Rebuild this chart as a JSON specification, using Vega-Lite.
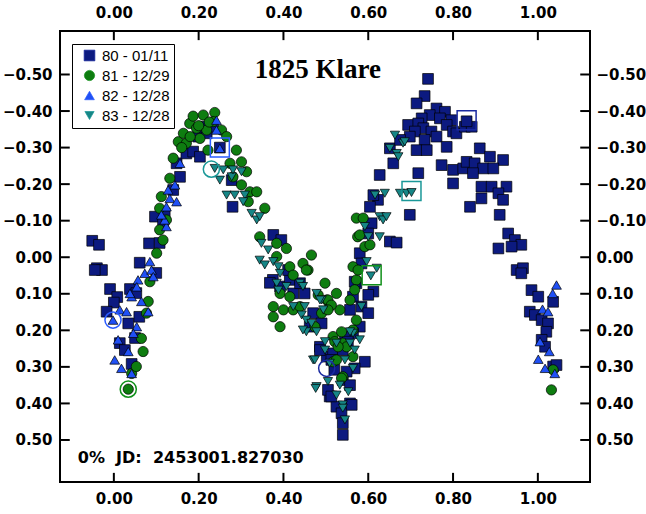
{
  "$schema": "https://vega.github.io/schema/vega-lite/v6.json",
  "width": 530,
  "height": 451,
  "autosize": {"type": "none"},
  "padding": {"left": 60, "top": 31, "right": 56, "bottom": 32},
  "background": "white",
  "config": {
    "view": {"stroke": "black", "strokeWidth": 2},
    "axis": {"domain": false, "grid": false, "ticks": false, "labelFont": "DejaVu Sans", "labelFontWeight": "bold", "labelFontSize": 15, "labelColor": "black", "title": null}
  },
  "datasets": {
    "xt": [{"v": 0}, {"v": 0.2}, {"v": 0.4}, {"v": 0.6}, {"v": 0.8}, {"v": 1.0}],
    "yt": [{"v": -0.5}, {"v": -0.4}, {"v": -0.3}, {"v": -0.2}, {"v": -0.1}, {"v": 0}, {"v": 0.1}, {"v": 0.2}, {"v": 0.3}, {"v": 0.4}, {"v": 0.5}],
    "pts": [
      {"s":"80 - 01/11","x":-0.051,"y":-0.045},{"s":"80 - 01/11","x":-0.035,"y":-0.034},{"s":"80 - 01/11","x":-0.04,"y":0.03},{"s":"80 - 01/11","x":-0.028,"y":0.035},{"s":"80 - 01/11","x":-0.045,"y":0.035},
      {"s":"80 - 01/11","x":0.083,"y":-0.038},{"s":"80 - 01/11","x":0.108,"y":-0.039},{"s":"80 - 01/11","x":0.061,"y":0.015},{"s":"80 - 01/11","x":0.1,"y":0.043},{"s":"80 - 01/11","x":-0.009,"y":0.087},{"s":"80 - 01/11","x":0.008,"y":0.109},{"s":"80 - 01/11","x":0,"y":0.124},{"s":"80 - 01/11","x":-0.017,"y":0.149},{"s":"80 - 01/11","x":0.034,"y":0.181},{"s":"80 - 01/11","x":0.06,"y":0.163},{"s":"80 - 01/11","x":0.014,"y":0.235},{"s":"80 - 01/11","x":0.026,"y":0.254},{"s":"80 - 01/11","x":0.05,"y":0.221},{"s":"80 - 01/11","x":0.042,"y":0.292},{"s":"80 - 01/11","x":0.038,"y":0.087},{"s":"80 - 01/11","x":0.053,"y":0.098},
      {"s":"80 - 01/11","x":0.097,"y":-0.111},{"s":"80 - 01/11","x":0.12,"y":-0.12},{"s":"80 - 01/11","x":0.116,"y":-0.093},{"s":"80 - 01/11","x":0.14,"y":-0.184},{"s":"80 - 01/11","x":0.156,"y":-0.22},{"s":"80 - 01/11","x":0.148,"y":-0.257},{"s":"80 - 01/11","x":0.171,"y":-0.284},{"s":"80 - 01/11","x":0.187,"y":-0.289},{"s":"80 - 01/11","x":0.203,"y":-0.275},{"s":"80 - 01/11","x":0.199,"y":-0.33},{"s":"80 - 01/11","x":0.219,"y":-0.339},{"s":"80 - 01/11","x":0.211,"y":-0.357},{"s":"80 - 01/11","x":0.234,"y":-0.357},{"s":"80 - 01/11","x":0.25,"y":-0.3},{"s":"80 - 01/11","x":0.278,"y":-0.211},{"s":"80 - 01/11","x":0.28,"y":-0.138},
      {"s":"80 - 01/11","x":0.376,"y":-0.061},{"s":"80 - 01/11","x":0.395,"y":-0.047},{"s":"80 - 01/11","x":0.375,"y":0.062},{"s":"80 - 01/11","x":0.368,"y":0.07},{"s":"80 - 01/11","x":0.392,"y":0.08},{"s":"80 - 01/11","x":0.415,"y":0.062},{"s":"80 - 01/11","x":0.411,"y":0.035},{"s":"80 - 01/11","x":0.423,"y":0.099},{"s":"80 - 01/11","x":0.45,"y":0.099},{"s":"80 - 01/11","x":0.439,"y":0.071},{"s":"80 - 01/11","x":0.47,"y":0.153},{"s":"80 - 01/11","x":0.49,"y":0.181},{"s":"80 - 01/11","x":0.462,"y":0.19},{"s":"80 - 01/11","x":0.486,"y":0.245},{"s":"80 - 01/11","x":0.502,"y":0.272},{"s":"80 - 01/11","x":0.517,"y":0.263},{"s":"80 - 01/11","x":0.54,"y":0.254},{"s":"80 - 01/11","x":0.557,"y":0.144},{"s":"80 - 01/11","x":0.564,"y":0.108},{"s":"80 - 01/11","x":0.572,"y":0.071},{"s":"80 - 01/11","x":0.509,"y":0.381},{"s":"80 - 01/11","x":0.525,"y":0.409},{"s":"80 - 01/11","x":0.557,"y":0.4},{"s":"80 - 01/11","x":0.54,"y":0.336},
      {"s":"80 - 01/11","x":0.741,"y":-0.488},{"s":"80 - 01/11","x":0.733,"y":-0.441},{"s":"80 - 01/11","x":0.714,"y":-0.421},{"s":"80 - 01/11","x":0.761,"y":-0.407},{"s":"80 - 01/11","x":0.781,"y":-0.398},{"s":"80 - 01/11","x":0.745,"y":-0.389},{"s":"80 - 01/11","x":0.769,"y":-0.38},{"s":"80 - 01/11","x":0.726,"y":-0.38},{"s":"80 - 01/11","x":0.796,"y":-0.375},{"s":"80 - 01/11","x":0.785,"y":-0.362},{"s":"80 - 01/11","x":0.694,"y":-0.362},{"s":"80 - 01/11","x":0.718,"y":-0.366},{"s":"80 - 01/11","x":0.73,"y":-0.353},{"s":"80 - 01/11","x":0.749,"y":-0.344},{"s":"80 - 01/11","x":0.71,"y":-0.344},{"s":"80 - 01/11","x":0.698,"y":-0.33},{"s":"80 - 01/11","x":0.733,"y":-0.321},{"s":"80 - 01/11","x":0.761,"y":-0.33},{"s":"80 - 01/11","x":0.8,"y":-0.344},{"s":"80 - 01/11","x":0.808,"y":-0.339},{"s":"80 - 01/11","x":0.828,"y":-0.357},{"s":"80 - 01/11","x":0.844,"y":-0.357},{"s":"80 - 01/11","x":0.832,"y":-0.372},
      {"s":"80 - 01/11","x":0.651,"y":-0.298},{"s":"80 - 01/11","x":0.714,"y":-0.293},{"s":"80 - 01/11","x":0.738,"y":-0.293},{"s":"80 - 01/11","x":0.785,"y":-0.302},{"s":"80 - 01/11","x":0.675,"y":-0.321},{"s":"80 - 01/11","x":0.659,"y":-0.257},{"s":"80 - 01/11","x":0.863,"y":-0.298},{"s":"80 - 01/11","x":0.887,"y":-0.275},{"s":"80 - 01/11","x":0.918,"y":-0.266},{"s":"80 - 01/11","x":0.773,"y":-0.252},{"s":"80 - 01/11","x":0.8,"y":-0.239},{"s":"80 - 01/11","x":0.824,"y":-0.243},{"s":"80 - 01/11","x":0.832,"y":-0.261},{"s":"80 - 01/11","x":0.851,"y":-0.257},{"s":"80 - 01/11","x":0.871,"y":-0.243},{"s":"80 - 01/11","x":0.895,"y":-0.243},{"s":"80 - 01/11","x":0.847,"y":-0.23},{"s":"80 - 01/11","x":0.867,"y":-0.193},{"s":"80 - 01/11","x":0.891,"y":-0.193},{"s":"80 - 01/11","x":0.926,"y":-0.193},{"s":"80 - 01/11","x":0.8,"y":-0.202},{"s":"80 - 01/11","x":0.907,"y":-0.175},{"s":"80 - 01/11","x":0.918,"y":-0.157},{"s":"80 - 01/11","x":0.867,"y":-0.161},{"s":"80 - 01/11","x":0.84,"y":-0.138},{"s":"80 - 01/11","x":0.91,"y":-0.116},{"s":"80 - 01/11","x":0.627,"y":-0.225},{"s":"80 - 01/11","x":0.718,"y":-0.23},{"s":"80 - 01/11","x":0.698,"y":-0.116},{"s":"80 - 01/11","x":0.651,"y":-0.043},{"s":"80 - 01/11","x":0.667,"y":-0.04},
      {"s":"80 - 01/11","x":0.93,"y":-0.065},{"s":"80 - 01/11","x":0.946,"y":-0.047},{"s":"80 - 01/11","x":0.961,"y":-0.034},{"s":"80 - 01/11","x":0.907,"y":-0.024},{"s":"80 - 01/11","x":0.938,"y":-0.029},{"s":"80 - 01/11","x":0.95,"y":0.035},{"s":"80 - 01/11","x":0.965,"y":0.03},{"s":"80 - 01/11","x":0.961,"y":0.044},{"s":"80 - 01/11","x":0.985,"y":0.09},{"s":"80 - 01/11","x":1.001,"y":0.108},{"s":"80 - 01/11","x":0.981,"y":0.149},{"s":"80 - 01/11","x":0.993,"y":0.158},{"s":"80 - 01/11","x":1.009,"y":0.172},{"s":"80 - 01/11","x":1.024,"y":0.181},{"s":"80 - 01/11","x":1.036,"y":0.122},{"s":"80 - 01/11","x":1.02,"y":0.204},{"s":"80 - 01/11","x":1.009,"y":0.226},{"s":"80 - 01/11","x":1.017,"y":0.245},{"s":"80 - 01/11","x":1.036,"y":0.299},{"s":"80 - 01/11","x":1.044,"y":0.295},
      {"s":"80 - 01/11","x":0.623,"y":-0.157},{"s":"80 - 01/11","x":0.612,"y":-0.17},{"s":"80 - 01/11","x":0.604,"y":-0.138},{"s":"80 - 01/11","x":0.608,"y":-0.093},{"s":"80 - 01/11","x":0.6,"y":-0.065},{"s":"80 - 01/11","x":0.58,"y":-0.011},{"s":"80 - 01/11","x":0.584,"y":0.017},{"s":"80 - 01/11","x":0.568,"y":0.067},{"s":"80 - 01/11","x":0.612,"y":0.094},{"s":"80 - 01/11","x":0.6,"y":0.103},{"s":"80 - 01/11","x":0.584,"y":0.135},{"s":"80 - 01/11","x":0.6,"y":0.153},{"s":"80 - 01/11","x":0.58,"y":0.19},{"s":"80 - 01/11","x":0.564,"y":0.208},{"s":"80 - 01/11","x":0.545,"y":0.217},{"s":"80 - 01/11","x":0.552,"y":0.231},{"s":"80 - 01/11","x":0.592,"y":0.286},{"s":"80 - 01/11","x":0.568,"y":0.304},{"s":"80 - 01/11","x":0.549,"y":0.313},{"s":"80 - 01/11","x":0.486,"y":0.254},{"s":"80 - 01/11","x":0.513,"y":0.281},{"s":"80 - 01/11","x":0.52,"y":0.308},{"s":"80 - 01/11","x":0.505,"y":0.363},{"s":"80 - 01/11","x":0.513,"y":0.381},{"s":"80 - 01/11","x":0.537,"y":0.427},{"s":"80 - 01/11","x":0.561,"y":0.404},{"s":"80 - 01/11","x":0.54,"y":0.454},{"s":"80 - 01/11","x":0.557,"y":0.35},{"s":"80 - 01/11","x":0.54,"y":0.486},
      {"s":"81 - 12/29","x":0.034,"y":0.361},{"s":"81 - 12/29","x":0.042,"y":0.318},{"s":"81 - 12/29","x":0.053,"y":0.299},{"s":"81 - 12/29","x":0.069,"y":0.258},{"s":"81 - 12/29","x":0.065,"y":0.222},{"s":"81 - 12/29","x":0.077,"y":0.153},{"s":"81 - 12/29","x":0.081,"y":0.121},{"s":"81 - 12/29","x":0.085,"y":0.067},{"s":"81 - 12/29","x":0.101,"y":-0.011},{"s":"81 - 12/29","x":0.116,"y":-0.047},{"s":"81 - 12/29","x":0.108,"y":-0.075},{"s":"81 - 12/29","x":0.124,"y":-0.102},{"s":"81 - 12/29","x":0.108,"y":-0.134},{"s":"81 - 12/29","x":0.112,"y":-0.166},{"s":"81 - 12/29","x":0.132,"y":-0.216},{"s":"81 - 12/29","x":0.14,"y":-0.271},{"s":"81 - 12/29","x":0.152,"y":-0.316},{"s":"81 - 12/29","x":0.164,"y":-0.339},{"s":"81 - 12/29","x":0.171,"y":-0.312},{"s":"81 - 12/29","x":0.179,"y":-0.366},{"s":"81 - 12/29","x":0.187,"y":-0.386},{"s":"81 - 12/29","x":0.211,"y":-0.389},{"s":"81 - 12/29","x":0.238,"y":-0.396},{"s":"81 - 12/29","x":0.234,"y":-0.371},{"s":"81 - 12/29","x":0.219,"y":-0.348},{"s":"81 - 12/29","x":0.195,"y":-0.353},{"s":"81 - 12/29","x":0.203,"y":-0.325},{"s":"81 - 12/29","x":0.222,"y":-0.293},{"s":"81 - 12/29","x":0.254,"y":-0.348},{"s":"81 - 12/29","x":0.266,"y":-0.33},{"s":"81 - 12/29","x":0.289,"y":-0.293},{"s":"81 - 12/29","x":0.274,"y":-0.257},{"s":"81 - 12/29","x":0.301,"y":-0.261},{"s":"81 - 12/29","x":0.313,"y":-0.234},{"s":"81 - 12/29","x":0.281,"y":-0.22},{"s":"81 - 12/29","x":0.301,"y":-0.198},{"s":"81 - 12/29","x":0.321,"y":-0.179},{"s":"81 - 12/29","x":0.337,"y":-0.179},{"s":"81 - 12/29","x":0.356,"y":-0.134},{"s":"81 - 12/29","x":0.317,"y":-0.152},{"s":"81 - 12/29","x":0.16,"y":-0.3},{"s":"81 - 12/29","x":0.2,"y":-0.36},{"s":"81 - 12/29","x":0.225,"y":-0.37},{"s":"81 - 12/29","x":0.18,"y":-0.33},
      {"s":"81 - 12/29","x":0.344,"y":-0.056},{"s":"81 - 12/29","x":0.384,"y":-0.038},{"s":"81 - 12/29","x":0.407,"y":-0.024},{"s":"81 - 12/29","x":0.384,"y":-0.002},{"s":"81 - 12/29","x":0.415,"y":0.026},{"s":"81 - 12/29","x":0.446,"y":0.017},{"s":"81 - 12/29","x":0.458,"y":0.035},{"s":"81 - 12/29","x":0.466,"y":-0.006},{"s":"81 - 12/29","x":0.423,"y":0.049},{"s":"81 - 12/29","x":0.392,"y":0.099},{"s":"81 - 12/29","x":0.415,"y":0.108},{"s":"81 - 12/29","x":0.376,"y":0.135},{"s":"81 - 12/29","x":0.4,"y":0.144},{"s":"81 - 12/29","x":0.423,"y":0.144},{"s":"81 - 12/29","x":0.439,"y":0.135},{"s":"81 - 12/29","x":0.376,"y":0.163},{"s":"81 - 12/29","x":0.392,"y":0.19},{"s":"81 - 12/29","x":0.498,"y":0.071},{"s":"81 - 12/29","x":0.502,"y":0.117},{"s":"81 - 12/29","x":0.525,"y":0.099},{"s":"81 - 12/29","x":0.509,"y":0.135},{"s":"81 - 12/29","x":0.533,"y":0.144},{"s":"81 - 12/29","x":0.517,"y":0.217},{"s":"81 - 12/29","x":0.54,"y":0.235},{"s":"81 - 12/29","x":0.549,"y":0.245},{"s":"81 - 12/29","x":0.564,"y":0.199},{"s":"81 - 12/29","x":0.572,"y":0.172},{"s":"81 - 12/29","x":0.557,"y":0.117},{"s":"81 - 12/29","x":0.572,"y":0.062},{"s":"81 - 12/29","x":0.54,"y":0.327},{"s":"81 - 12/29","x":0.564,"y":0.272},{"s":"81 - 12/29","x":0.575,"y":-0.056},{"s":"81 - 12/29","x":0.572,"y":-0.107},{"s":"81 - 12/29","x":0.564,"y":0.026},{"s":"81 - 12/29","x":0.454,"y":0.035},{"s":"81 - 12/29","x":0.505,"y":0.117},{"s":"81 - 12/29","x":0.513,"y":0.131},{"s":"81 - 12/29","x":0.482,"y":0.103},{"s":"81 - 12/29","x":0.49,"y":0.153},{"s":"81 - 12/29","x":0.505,"y":0.144},{"s":"81 - 12/29","x":0.474,"y":0.19},{"s":"81 - 12/29","x":0.537,"y":0.204},{"s":"81 - 12/29","x":0.521,"y":0.231},{"s":"81 - 12/29","x":0.529,"y":0.245},{"s":"81 - 12/29","x":0.517,"y":0.286},{"s":"81 - 12/29","x":0.537,"y":0.331},{"s":"81 - 12/29","x":0.525,"y":0.281},{"s":"81 - 12/29","x":0.568,"y":0.089},{"s":"81 - 12/29","x":0.576,"y":0.035},{"s":"81 - 12/29","x":0.592,"y":-0.029},{"s":"81 - 12/29","x":0.58,"y":-0.061},{"s":"81 - 12/29","x":0.588,"y":-0.107},{"s":"81 - 12/29","x":0.604,"y":-0.034},{"s":"81 - 12/29","x":1.032,"y":0.363},{"s":"81 - 12/29","x":1.036,"y":0.308},
      {"s":"82 - 12/28","x":-0.002,"y":0.172},{"s":"82 - 12/28","x":0.014,"y":0.144},{"s":"82 - 12/28","x":0.03,"y":0.149},{"s":"82 - 12/28","x":0.042,"y":0.108},{"s":"82 - 12/28","x":0.057,"y":0.062},{"s":"82 - 12/28","x":0.054,"y":0.081},{"s":"82 - 12/28","x":0.038,"y":0.099},{"s":"82 - 12/28","x":0.065,"y":0.121},{"s":"82 - 12/28","x":0.081,"y":0.149},{"s":"82 - 12/28","x":0.054,"y":0.19},{"s":"82 - 12/28","x":0.01,"y":0.226},{"s":"82 - 12/28","x":0.034,"y":0.258},{"s":"82 - 12/28","x":0.002,"y":0.281},{"s":"82 - 12/28","x":0.018,"y":0.304},{"s":"82 - 12/28","x":0.042,"y":0.318},{"s":"82 - 12/28","x":0.046,"y":0.208},{"s":"82 - 12/28","x":0.073,"y":0.044},{"s":"82 - 12/28","x":0.089,"y":0.035},{"s":"82 - 12/28","x":0.085,"y":0.012},{"s":"82 - 12/28","x":0.093,"y":0.053},{"s":"82 - 12/28","x":0.124,"y":-0.084},{"s":"82 - 12/28","x":0.12,"y":-0.102},{"s":"82 - 12/28","x":0.112,"y":-0.116},{"s":"82 - 12/28","x":0.124,"y":-0.138},{"s":"82 - 12/28","x":0.132,"y":-0.161},{"s":"82 - 12/28","x":0.148,"y":-0.152},{"s":"82 - 12/28","x":0.128,"y":-0.184},{"s":"82 - 12/28","x":0.144,"y":-0.198},{"s":"82 - 12/28","x":0.156,"y":-0.257},{"s":"82 - 12/28","x":0.242,"y":-0.375},{"s":"82 - 12/28","x":0.242,"y":-0.348},{"s":"82 - 12/28","x":0.25,"y":-0.298},{"s":"82 - 12/28","x":1.044,"y":0.076},{"s":"82 - 12/28","x":1.035,"y":0.099},{"s":"82 - 12/28","x":1.011,"y":0.142},{"s":"82 - 12/28","x":1.024,"y":0.149},{"s":"82 - 12/28","x":1.005,"y":0.231},{"s":"82 - 12/28","x":1.027,"y":0.258},{"s":"82 - 12/28","x":1.001,"y":0.279},{"s":"82 - 12/28","x":1.017,"y":0.304},{"s":"82 - 12/28","x":1.04,"y":0.318},
      {"s":"83 - 12/28","x":0.238,"y":-0.243},{"s":"83 - 12/28","x":0.258,"y":-0.239},{"s":"83 - 12/28","x":0.25,"y":-0.211},{"s":"83 - 12/28","x":0.278,"y":-0.22},{"s":"83 - 12/28","x":0.281,"y":-0.239},{"s":"83 - 12/28","x":0.301,"y":-0.234},{"s":"83 - 12/28","x":0.266,"y":-0.17},{"s":"83 - 12/28","x":0.285,"y":-0.17},{"s":"83 - 12/28","x":0.309,"y":-0.17},{"s":"83 - 12/28","x":0.305,"y":-0.152},{"s":"83 - 12/28","x":0.325,"y":-0.12},{"s":"83 - 12/28","x":0.337,"y":-0.102},{"s":"83 - 12/28","x":0.344,"y":-0.111},{"s":"83 - 12/28","x":0.348,"y":-0.038},{"s":"83 - 12/28","x":0.364,"y":-0.02},{"s":"83 - 12/28","x":0.344,"y":0.008},{"s":"83 - 12/28","x":0.376,"y":0.012},{"s":"83 - 12/28","x":0.388,"y":0.026},{"s":"83 - 12/28","x":0.392,"y":0.044},{"s":"83 - 12/28","x":0.356,"y":0.021},{"s":"83 - 12/28","x":0.384,"y":0.071},{"s":"83 - 12/28","x":0.388,"y":0.09},{"s":"83 - 12/28","x":0.407,"y":0.08},{"s":"83 - 12/28","x":0.439,"y":0.071},{"s":"83 - 12/28","x":0.446,"y":0.08},{"s":"83 - 12/28","x":0.423,"y":0.135},{"s":"83 - 12/28","x":0.443,"y":0.158},{"s":"83 - 12/28","x":0.454,"y":0.172},{"s":"83 - 12/28","x":0.454,"y":0.204},{"s":"83 - 12/28","x":0.478,"y":0.099},{"s":"83 - 12/28","x":0.49,"y":0.117},{"s":"83 - 12/28","x":0.494,"y":0.144},{"s":"83 - 12/28","x":0.478,"y":0.204},{"s":"83 - 12/28","x":0.47,"y":0.281},{"s":"83 - 12/28","x":0.498,"y":0.254},{"s":"83 - 12/28","x":0.509,"y":0.29},{"s":"83 - 12/28","x":0.478,"y":0.354},{"s":"83 - 12/28","x":0.525,"y":0.235},{"s":"83 - 12/28","x":0.545,"y":0.281},{"s":"83 - 12/28","x":0.557,"y":0.235},{"s":"83 - 12/28","x":0.564,"y":0.208},{"s":"83 - 12/28","x":0.505,"y":0.34},{"s":"83 - 12/28","x":0.525,"y":0.377},{"s":"83 - 12/28","x":0.564,"y":0.304},{"s":"83 - 12/28","x":0.54,"y":0.404},{"s":"83 - 12/28","x":0.476,"y":0.359},{"s":"83 - 12/28","x":0.533,"y":0.35},{"s":"83 - 12/28","x":0.553,"y":0.368},{"s":"83 - 12/28","x":0.54,"y":0.413},{"s":"83 - 12/28","x":0.545,"y":0.445},{"s":"83 - 12/28","x":0.466,"y":0.181},{"s":"83 - 12/28","x":0.446,"y":0.199},{"s":"83 - 12/28","x":0.45,"y":0.135},{"s":"83 - 12/28","x":0.486,"y":0.117},{"s":"83 - 12/28","x":0.474,"y":0.281},{"s":"83 - 12/28","x":0.498,"y":0.231},{"s":"83 - 12/28","x":0.568,"y":0.254},{"s":"83 - 12/28","x":0.58,"y":0.226},{"s":"83 - 12/28","x":0.584,"y":0.135},{"s":"83 - 12/28","x":0.557,"y":0.204},{"s":"83 - 12/28","x":0.606,"y":0.051},{"s":"83 - 12/28","x":0.596,"y":0.012},{"s":"83 - 12/28","x":0.62,"y":0.03},{"s":"83 - 12/28","x":0.627,"y":-0.056},{"s":"83 - 12/28","x":0.6,"y":-0.056},{"s":"83 - 12/28","x":0.592,"y":-0.084},{"s":"83 - 12/28","x":0.616,"y":-0.17},{"s":"83 - 12/28","x":0.639,"y":-0.175},{"s":"83 - 12/28","x":0.627,"y":-0.111},{"s":"83 - 12/28","x":0.635,"y":-0.102},{"s":"83 - 12/28","x":0.643,"y":-0.111},{"s":"83 - 12/28","x":0.675,"y":-0.175},{"s":"83 - 12/28","x":0.69,"y":-0.175},{"s":"83 - 12/28","x":0.702,"y":-0.177},{"s":"83 - 12/28","x":0.651,"y":-0.298},{"s":"83 - 12/28","x":0.667,"y":-0.284},{"s":"83 - 12/28","x":0.671,"y":-0.275},{"s":"83 - 12/28","x":0.682,"y":-0.312},{"s":"83 - 12/28","x":0.663,"y":-0.334},{"s":"83 - 12/28","x":0.686,"y":-0.316}
    ],
    "firsts": [
      {"s":"80 - 01/11","m":"circle","x":0.502,"y":0.304},
      {"s":"80 - 01/11","m":"square","x":0.832,"y":-0.375},
      {"s":"81 - 12/29","m":"circle","x":0.034,"y":0.361},
      {"s":"81 - 12/29","m":"square","x":0.608,"y":0.049},
      {"s":"82 - 12/28","m":"circle","x":-0.002,"y":0.172},
      {"s":"82 - 12/28","m":"square","x":0.25,"y":-0.3},
      {"s":"83 - 12/28","m":"circle","x":0.23,"y":-0.241},
      {"s":"83 - 12/28","m":"square","x":0.702,"y":-0.181}
    ],
    "labels": [
      {"t": "1825 Klare", "x": 0.481, "y": -0.49},
      {"t": "0%\u00a0\u00a0JD:\u00a0\u00a02453001.827030", "x": -0.085, "y": 0.563}
    ]
  },
  "layer": [
    {
      "data": {"name": "xt"},
      "mark": {"type": "rule", "color": "black", "strokeWidth": 2},
      "encoding": {
        "x": {"field": "v", "type": "quantitative", "scale": {"domain": [-0.127, 1.123], "nice": false, "zero": false}, "axis": {"orient": "bottom", "values": [0, 0.2, 0.4, 0.6, 0.8, 1.0], "format": ".2f", "labelPadding": 9}},
        "y": {"datum": -0.619, "type": "quantitative", "scale": {"domain": [-0.619, 0.615], "reverse": true, "nice": false, "zero": false}, "axis": {"orient": "left", "values": [-0.5, -0.4, -0.3, -0.2, -0.1, 0, 0.1, 0.2, 0.3, 0.4, 0.5], "format": ".2f", "labelPadding": 8}},
        "y2": {"datum": -0.594}
      }
    },
    {
      "data": {"name": "xt"},
      "mark": {"type": "rule", "color": "black", "strokeWidth": 2},
      "encoding": {
        "x": {"field": "v", "type": "quantitative", "axis": {"orient": "top", "values": [0, 0.2, 0.4, 0.6, 0.8, 1.0], "format": ".2f", "labelPadding": 11}},
        "y": {"datum": 0.59, "type": "quantitative", "axis": {"orient": "right", "values": [-0.5, -0.4, -0.3, -0.2, -0.1, 0, 0.1, 0.2, 0.3, 0.4, 0.5], "format": ".2f", "labelPadding": 6}},
        "y2": {"datum": 0.615}
      }
    },
    {
      "data": {"name": "yt"},
      "mark": {"type": "rule", "color": "black", "strokeWidth": 2},
      "encoding": {
        "y": {"field": "v", "type": "quantitative", "axis": null},
        "x": {"datum": -0.127, "type": "quantitative", "axis": null},
        "x2": {"datum": -0.104}
      }
    },
    {
      "data": {"name": "yt"},
      "mark": {"type": "rule", "color": "black", "strokeWidth": 2},
      "encoding": {
        "y": {"field": "v", "type": "quantitative", "axis": null},
        "x": {"datum": 1.1, "type": "quantitative", "axis": null},
        "x2": {"datum": 1.123}
      }
    },
    {
      "data": {"name": "pts"},
      "mark": {"type": "point", "filled": true, "stroke": "black", "strokeWidth": 0.7, "opacity": 1},
      "encoding": {
        "x": {"field": "x", "type": "quantitative", "axis": null},
        "y": {"field": "y", "type": "quantitative", "axis": null},
        "color": {"field": "s", "type": "nominal", "scale": {"domain": ["80 - 01/11", "81 - 12/29", "82 - 12/28", "83 - 12/28"], "range": ["#0c1a80", "#0e7d10", "#2050f5", "#168686"]},
          "legend": {"orient": "none", "legendX": 12, "legendY": 13, "title": null, "strokeColor": "black", "fillColor": "white", "padding": 4, "labelFont": "Liberation Sans", "labelFontSize": 15, "labelColor": "black", "rowPadding": 4, "symbolOffset": 6, "symbolSize": 100, "symbolStrokeColor": "black", "symbolStrokeWidth": 0.7, "labelOffset": 5}},
        "shape": {"field": "s", "type": "nominal", "scale": {"domain": ["80 - 01/11", "81 - 12/29", "82 - 12/28", "83 - 12/28"], "range": ["square", "circle", "triangle-up", "triangle-down"]}},
        "size": {"field": "s", "type": "nominal", "scale": {"domain": ["80 - 01/11", "81 - 12/29", "82 - 12/28", "83 - 12/28"], "range": [115, 85, 125, 125]}, "legend": null}
      }
    },
    {
      "data": {"name": "firsts"},
      "mark": {"type": "point", "filled": false, "fill": null, "strokeWidth": 1.5, "opacity": 1},
      "encoding": {
        "x": {"field": "x", "type": "quantitative", "axis": null},
        "y": {"field": "y", "type": "quantitative", "axis": null},
        "stroke": {"field": "s", "type": "nominal", "scale": {"domain": ["80 - 01/11", "81 - 12/29", "82 - 12/28", "83 - 12/28"], "range": ["#1a2aa0", "#10901a", "#2a5cff", "#1a9898"]}, "legend": null},
        "shape": {"field": "m", "type": "nominal", "scale": null},
        "size": {"condition": {"test": "datum.m === 'square'", "value": 360}, "value": 260}
      }
    },
    {
      "data": {"name": "labels"},
      "transform": [{"filter": "datum.t === '1825 Klare'"}],
      "mark": {"type": "text", "font": "Liberation Serif", "fontWeight": "bold", "fontSize": 27, "align": "center", "baseline": "alphabetic", "color": "black"},
      "encoding": {
        "x": {"field": "x", "type": "quantitative", "axis": null},
        "y": {"field": "y", "type": "quantitative", "axis": null},
        "text": {"field": "t"}
      }
    },
    {
      "data": {"name": "labels"},
      "transform": [{"filter": "datum.t !== '1825 Klare'"}],
      "mark": {"type": "text", "font": "DejaVu Sans", "fontWeight": "bold", "fontSize": 16, "align": "left", "baseline": "alphabetic", "color": "black"},
      "encoding": {
        "x": {"field": "x", "type": "quantitative", "axis": null},
        "y": {"field": "y", "type": "quantitative", "axis": null},
        "text": {"field": "t"}
      }
    }
  ],
  "resolve": {"axis": {"x": "independent", "y": "independent"}}
}
